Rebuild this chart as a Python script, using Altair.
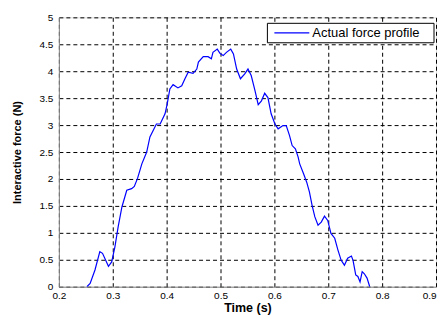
import altair as alt
import pandas as pd

time_s = [0.252, 0.258, 0.267, 0.276, 0.281, 0.292, 0.298, 0.304, 0.310, 0.317, 0.326,
          0.335, 0.340, 0.346, 0.354, 0.363, 0.369, 0.381, 0.388, 0.397, 0.401, 0.406,
          0.412, 0.421, 0.428, 0.434, 0.440, 0.449, 0.456, 0.459, 0.468, 0.477, 0.483,
          0.486, 0.494, 0.499, 0.505, 0.511, 0.519, 0.524, 0.530, 0.537, 0.545, 0.551,
          0.557, 0.564, 0.570, 0.576, 0.582, 0.588, 0.594, 0.601, 0.607, 0.616, 0.622,
          0.628, 0.633, 0.639, 0.644, 0.647, 0.654, 0.660, 0.665, 0.670, 0.675, 0.681,
          0.687, 0.693, 0.699, 0.705, 0.712, 0.718, 0.724, 0.730, 0.736, 0.743, 0.746,
          0.751, 0.755, 0.759, 0.763, 0.767, 0.772, 0.777]
force_n = [0.00, 0.06, 0.31, 0.65, 0.62, 0.38, 0.46, 0.74, 1.11, 1.48, 1.79,
           1.82, 1.86, 2.01, 2.28, 2.50, 2.78, 3.02, 3.02, 3.21, 3.39, 3.67,
           3.75, 3.69, 3.73, 3.86, 3.98, 3.96, 4.04, 4.17, 4.27, 4.27, 4.23,
           4.35, 4.41, 4.33, 4.29, 4.35, 4.41, 4.32, 4.04, 3.86, 3.95, 4.04,
           3.92, 3.64, 3.38, 3.45, 3.59, 3.51, 3.21, 3.02, 2.93, 2.99, 2.99,
           2.81, 2.62, 2.56, 2.41, 2.28, 2.10, 1.94, 1.76, 1.51, 1.30, 1.14,
           1.20, 1.31, 1.23, 0.99, 0.90, 0.68, 0.49, 0.40, 0.53, 0.57, 0.49,
           0.22, 0.19, 0.09, 0.28, 0.24, 0.16, 0.00]
series_name = "Actual force profile"

x_ticks = [0.2, 0.3, 0.4, 0.5, 0.6, 0.7, 0.8, 0.9]
y_ticks = [0, 0.5, 1, 1.5, 2, 2.5, 3, 3.5, 4, 4.5, 5]

df = pd.DataFrame({"t": time_s, "f": force_n})
legend_df = pd.DataFrame({"s": [series_name]})

FONT = "Liberation Sans"
LINE_COLOR = "#0000ff"

grid_kw = dict(grid=True, gridColor="black", gridDash=[4, 3], gridWidth=1,
               gridOpacity=1, ticks=False, labelFlush=False, format="~g")

line = alt.Chart(df).mark_line(strokeWidth=1.2, clip=True, color=LINE_COLOR).encode(
    x=alt.X("t:Q", title="Time (s)",
            scale=alt.Scale(domain=[0.2, 0.9], nice=False, zero=False),
            axis=alt.Axis(values=x_ticks, labelPadding=4, titlePadding=1,
                          titleFontSize=12.5,
                          labelAlign={"condition": {"test": "datum.value >= 0.89",
                                                    "value": "right"},
                                      "value": "center"},
                          **grid_kw)),
    y=alt.Y("f:Q", title="Interactive force (N)",
            scale=alt.Scale(domain=[0, 5], nice=False),
            axis=alt.Axis(values=y_ticks, labelPadding=6, titlePadding=17, **grid_kw)),
)

legend_box = alt.Chart(legend_df).mark_rect(
    fill="white", stroke="black", strokeWidth=1
).encode(x=alt.value(209), x2=alt.value(376), y=alt.value(6), y2=alt.value(25.5))

legend_line = alt.Chart(legend_df).mark_rule(
    color=LINE_COLOR, strokeWidth=1.2
).encode(x=alt.value(216), x2=alt.value(251), y=alt.value(15.5))

legend_text = alt.Chart(legend_df).mark_text(
    align="left", baseline="middle", font=FONT, fontSize=13, color="black"
).encode(x=alt.value(254), y=alt.value(16), text="s:N")

chart = alt.layer(line, legend_box, legend_line, legend_text).properties(
    width=378, height=270,
    autosize=alt.AutoSizeParams(type="none"),
    padding={"left": 51, "top": 9, "right": 2, "bottom": 28},
).configure_view(
    stroke="black", strokeWidth=1
).configure_axis(
    labelFont=FONT, labelFontSize=11, labelColor="#555555",
    titleFont=FONT, titleFontSize=13, titleFontWeight="bold", titleColor="black",
    domainColor="black", domainWidth=1,
).configure(background="white")

chart.save("out.html", embed_options={"renderer": "svg", "actions": False})
